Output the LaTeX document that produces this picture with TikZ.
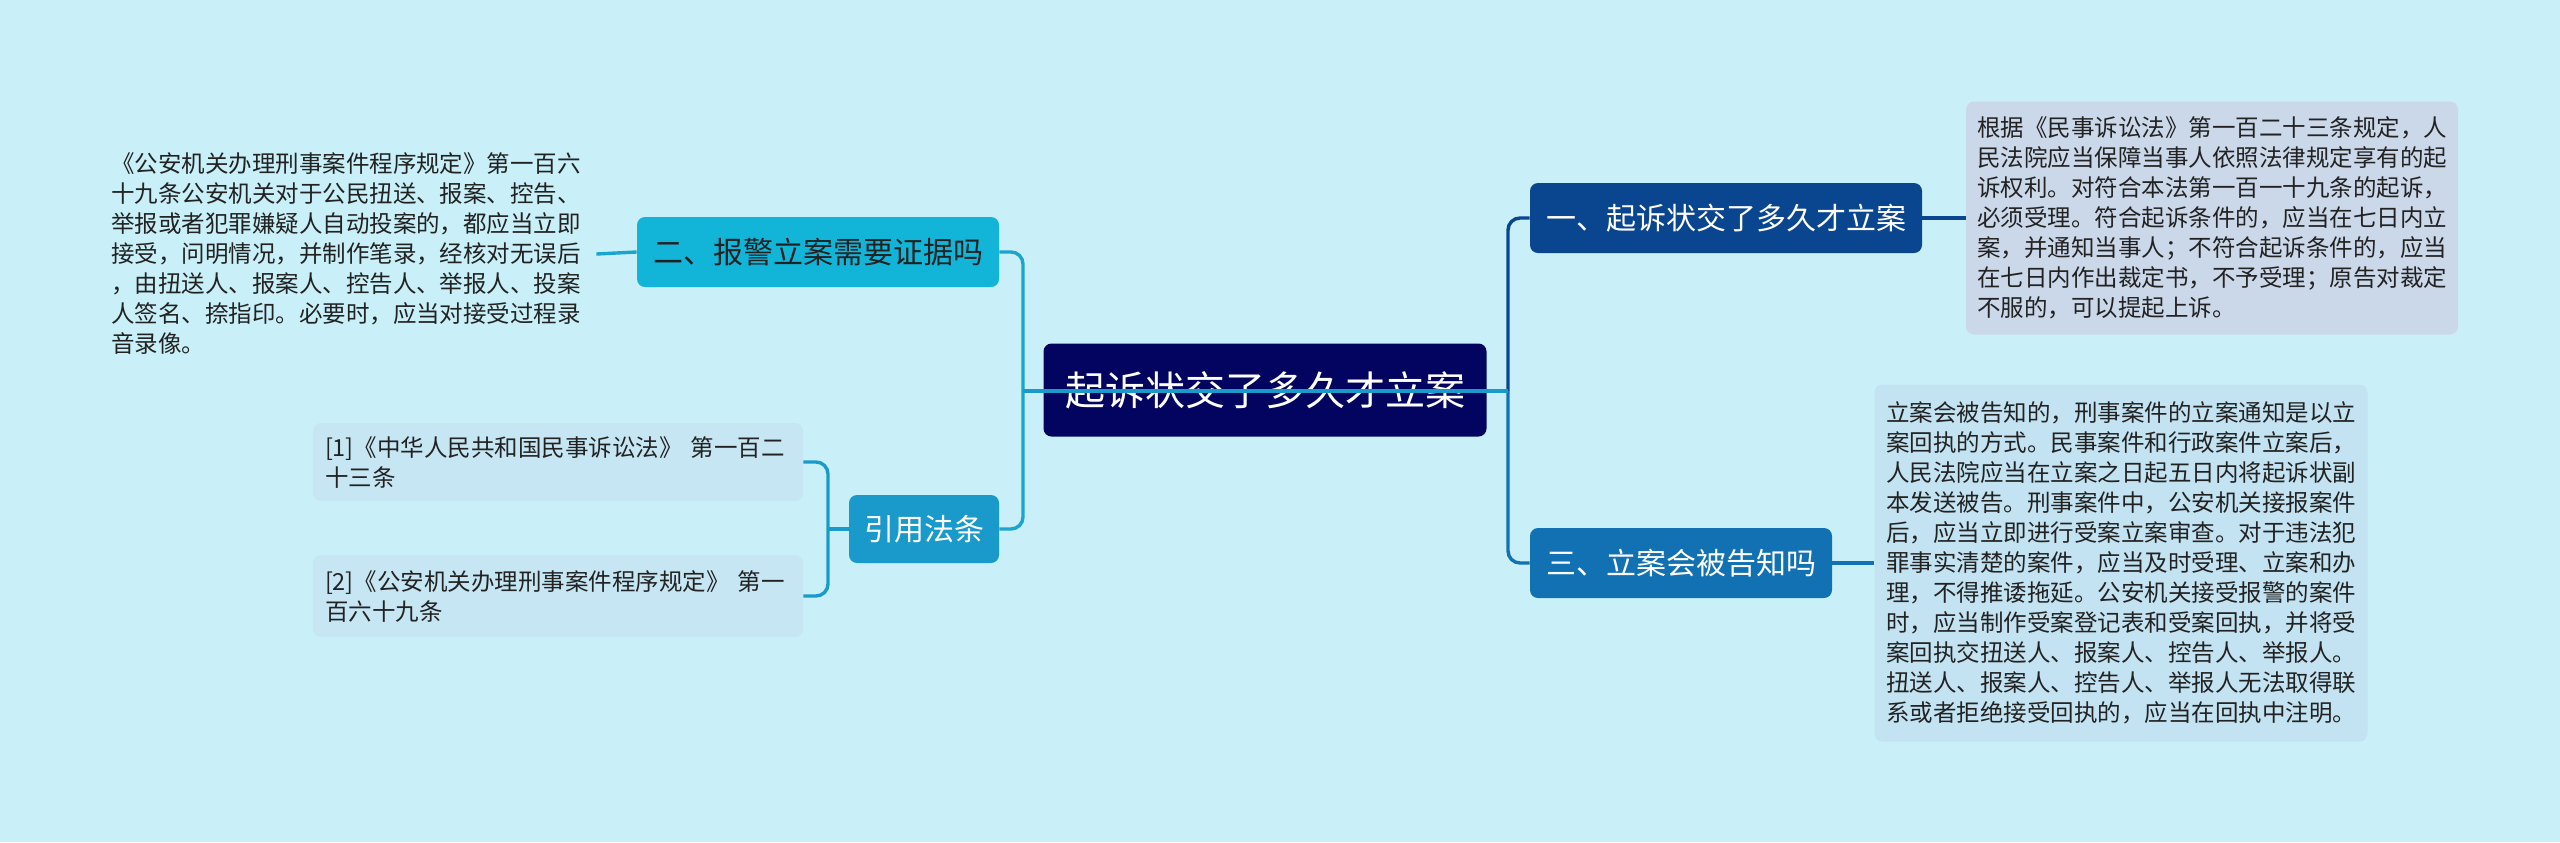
\documentclass[tikz,border=0pt]{standalone}
\usepackage{fontspec}
\setmainfont{Noto Sans CJK SC}
\definecolor{bgcyan}{HTML}{C9F0F8}
\definecolor{rootblue}{HTML}{03045F}
\definecolor{darkblue}{HTML}{0A4590}
\definecolor{midblue}{HTML}{1171B2}
\definecolor{cyanblue}{HTML}{12B4D8}
\definecolor{refblue}{HTML}{1A9ACA}
\definecolor{linecyan}{HTML}{1AA5CE}
\definecolor{boxgray}{HTML}{CBD8EA}
\definecolor{boxblue}{HTML}{C3E3F2}
\definecolor{leafblue}{HTML}{C6E6F3}
\definecolor{inkgray}{HTML}{222222}
\tikzset{
  topic/.style={rounded corners=4pt, inner sep=0pt, font=\fontsize{15}{18}\selectfont},
  detail/.style={rounded corners=4pt, inner xsep=5.5pt, align=left, text=inkgray, font=\fontsize{11.75}{15}\selectfont},
  leaf/.style={detail, fill=leafblue, inner xsep=6pt, text width=233pt, minimum width=245pt},
  link/.style={line width=1.7pt, rounded corners=6pt},
}
\begin{document}
\begin{tikzpicture}[x=0.5pt, y=-0.5pt]
    \fill[bgcyan] (0,0) rectangle (2560,842);
    \useasboundingbox (0,0) rectangle (2560,842);

    \node[topic, fill=rootblue, text=white, minimum width=221.5pt, minimum height=46.5pt, font=\fontsize{20}{24}\selectfont] (root) at (1265,390) {起诉状交了多久才立案};

    % right side
    \node[topic, fill=darkblue, text=white, minimum width=196pt, minimum height=35pt] (q1) at (1726,218) {一、起诉状交了多久才立案};
    \node[topic, fill=midblue, text=white, minimum width=151pt, minimum height=35pt] (q3) at (1681,563) {三、立案会被告知吗};
    \node[detail, fill=boxgray, minimum width=245.5pt, minimum height=116.5pt] (a1) at (2212,218) {根据《民事诉讼法》第一百二十三条规定，人\\民法院应当保障当事人依照法律规定享有的起\\诉权利。对符合本法第一百一十九条的起诉，\\必须受理。符合起诉条件的，应当在七日内立\\案，并通知当事人；不符合起诉条件的，应当\\在七日内作出裁定书，不予受理；原告对裁定\\不服的，可以提起上诉。};
    \node[detail, fill=boxblue, minimum width=246.5pt, minimum height=178.5pt] (a3) at (2121,563) {立案会被告知的，刑事案件的立案通知是以立\\案回执的方式。民事案件和行政案件立案后，\\人民法院应当在立案之日起五日内将起诉状副\\本发送被告。刑事案件中，公安机关接报案件\\后，应当立即进行受案立案审查。对于违法犯\\罪事实清楚的案件，应当及时受理、立案和办\\理，不得推诿拖延。公安机关接受报警的案件\\时，应当制作受案登记表和受案回执，并将受\\案回执交扭送人、报案人、控告人、举报人。\\扭送人、报案人、控告人、举报人无法取得联\\系或者拒绝接受回执的，应当在回执中注明。};

    % left side
    \node[topic, fill=cyanblue, text=inkgray, minimum width=181pt, minimum height=35pt] (q2) at (818,252) {二、报警立案需要证据吗};
    \node[detail, inner xsep=7.5pt] (a2) at (346,254) {《公安机关办理刑事案件程序规定》第一百六\\十九条公安机关对于公民扭送、报案、控告、\\举报或者犯罪嫌疑人自动投案的，都应当立即\\接受，问明情况，并制作笔录，经核对无误后\\，由扭送人、报案人、控告人、举报人、投案\\人签名、捺指印。必要时，应当对接受过程录\\音录像。};
    \node[topic, fill=refblue, text=white, minimum width=75pt, minimum height=34pt] (refs) at (924,529) {引用法条};
    \node[leaf, minimum height=39pt] (ref1) at (558,462) {[1]《中华人民共和国民事诉讼法》 第一百二\\十三条};
    \node[leaf, minimum height=41pt] (ref2) at (558,596) {[2]《公安机关办理刑事案件程序规定》 第一\\百六十九条};

    \coordinate (lt) at (1023,391);
    \coordinate (rt) at (1508,391);
    \coordinate (bk) at (828,529);

    \draw[link, linecyan] (q2.east) -| (lt);
    \draw[link, linecyan] (refs.east) -| (lt);
    \draw[link, linecyan] (q2.west) -- (a2.east);
    \draw[link, refblue] (ref1.east) -| (bk) |- (ref2.east);
    \draw[link, refblue] (bk) -- (refs.west);
    \draw[link, darkblue] (rt) |- (q1.west);
    \draw[link, midblue] (rt) |- (q3.west);
    \draw[link, darkblue] (q1.east) -- (a1.west);
    \draw[link, midblue] (q3.east) -- (a3.west);
    \draw[link, refblue] (lt) -- (rt);
\end{tikzpicture}
\end{document}
